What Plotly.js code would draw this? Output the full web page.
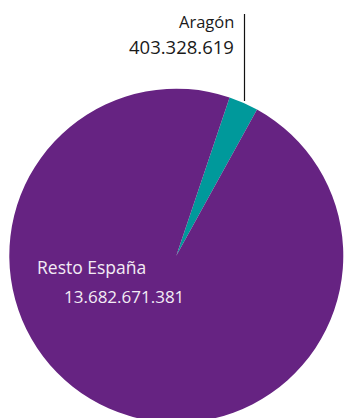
<!DOCTYPE html>
<html>
<head>
<meta charset="utf-8">
<script src="https://cdn.plot.ly/plotly-3.0.1.min.js"></script>
<style>
html,body{margin:0;padding:0;overflow:hidden;background:#fff;width:346px;height:418px;}
#chart{width:346px;height:430px;}
</style>
</head>
<body>
<div id="chart"></div>
<script>
const labels = ["Aragón", "Resto España"];
const values = [403328619, 13682671381];
const valueTexts = ["403.328.619", "13.682.671.381"];
const colors = ["#00999b", "#662382"];

const W = 346, H = 430;
const px = x => x / W;
const py = y => (H - y) / H;

const data = [{
  type: "pie",
  labels: labels,
  values: values,
  sort: false,
  direction: "clockwise",
  rotation: 18.6,
  textinfo: "none",
  hoverinfo: "none",
  marker: {colors: colors, line: {width: 0}},
  domain: {x: [px(9.3), px(343.3)], y: [py(422.7), py(88.7)]},
  showlegend: false
}];

const layout = {
  width: W, height: H,
  margin: {l: 0, r: 0, t: 0, b: 0},
  paper_bgcolor: "#fff",
  showlegend: false,
  font: {family: "Open Sans, sans-serif"},
  shapes: [{
    type: "line", xref: "paper", yref: "paper",
    x0: px(244.5), x1: px(244.5), y0: py(14), y1: py(101),
    line: {color: "#111", width: 1.2}
  }],
  annotations: [
    {text: labels[0], xref: "paper", yref: "paper", x: px(236), y: py(21), xanchor: "right", yanchor: "middle", showarrow: false, font: {size: 16.5, color: "#1a1a1a"}},
    {text: valueTexts[0], xref: "paper", yref: "paper", x: px(236), y: py(46), xanchor: "right", yanchor: "middle", showarrow: false, font: {size: 18.5, color: "#1a1a1a"}},
    {text: labels[1], xref: "paper", yref: "paper", x: px(35), y: py(267), xanchor: "left", yanchor: "middle", showarrow: false, font: {size: 17.5, color: "#f3ecf5"}},
    {text: valueTexts[1], xref: "paper", yref: "paper", x: px(61.5), y: py(296), xanchor: "left", yanchor: "middle", showarrow: false, font: {size: 17, color: "#f3ecf5"}}
  ]
};

Plotly.newPlot("chart", data, layout, {staticPlot: true, displayModeBar: false});
</script>
</body>
</html>
